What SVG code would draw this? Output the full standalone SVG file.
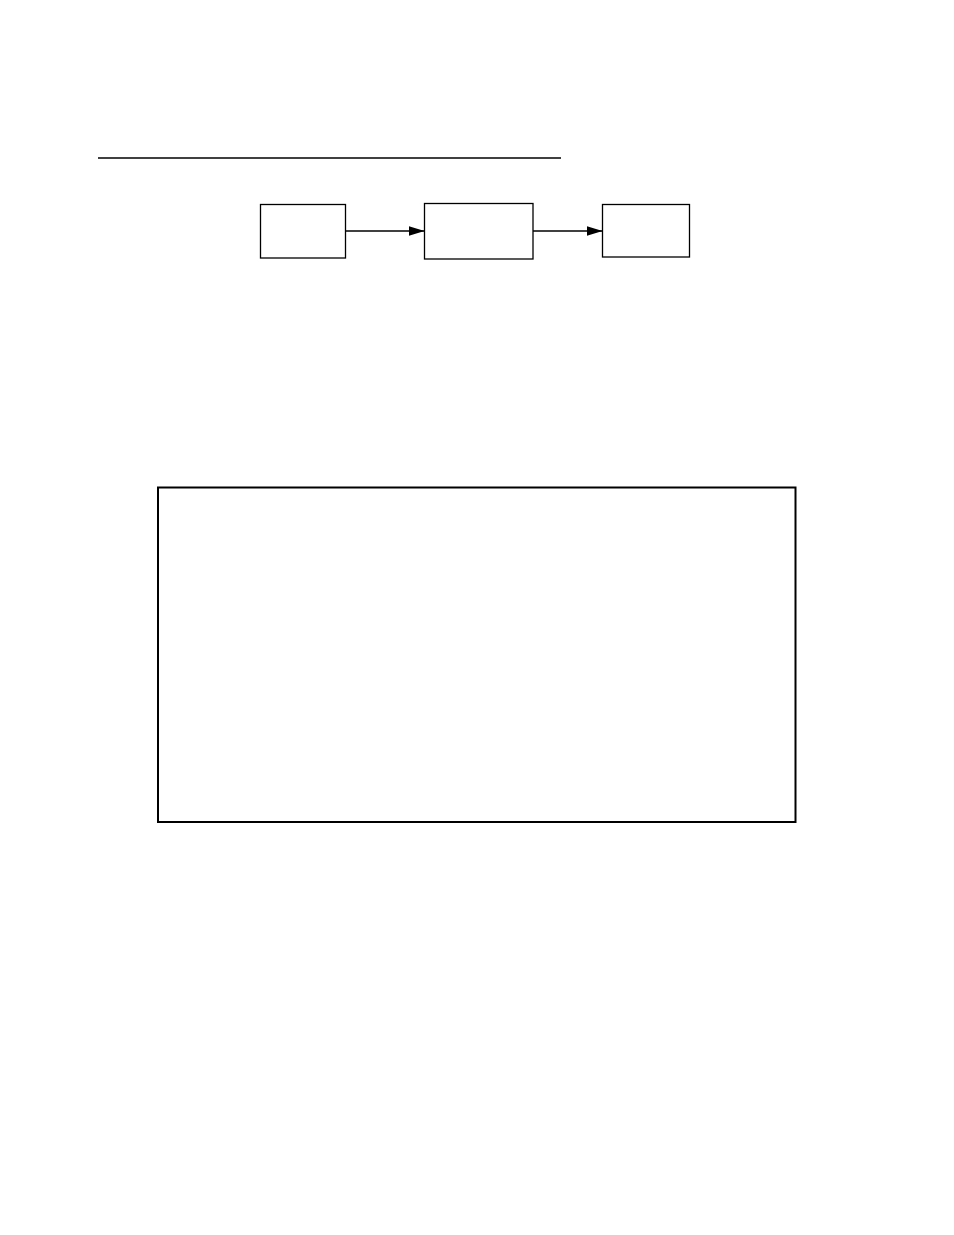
<svg xmlns="http://www.w3.org/2000/svg" width="954" height="1235" viewBox="0 0 954 1235">
<defs>
<style>
.box{fill:#fff;stroke:#000;stroke-width:1.3}
.conn{stroke:#000;stroke-width:1.3;fill:none}
</style>
<marker id="ah" markerWidth="16" markerHeight="10" refX="16" refY="5" orient="auto" markerUnits="userSpaceOnUse">
<path d="M0,0 L16,5 L0,10 Z" fill="#000"/>
</marker>
</defs>
<rect width="954" height="1235" fill="#fff"/>
<line x1="98" y1="158" x2="561" y2="158" stroke="#000" stroke-width="1.3"/>
<g id="node1"><rect class="box" x="260.5" y="204.5" width="85" height="53.5"/></g>
<g id="node2"><rect class="box" x="424.5" y="203.5" width="108.5" height="55.5"/></g>
<g id="node3"><rect class="box" x="602.5" y="204.5" width="87" height="52.5"/></g>
<g id="connectors">
<line class="conn" x1="345.5" y1="231" x2="424.5" y2="231" marker-end="url(#ah)"/>
<line class="conn" x1="533" y1="231" x2="602.5" y2="231" marker-end="url(#ah)"/>
</g>
<g id="panel"><rect x="158" y="487.5" width="637.5" height="334.5" fill="none" stroke="#000" stroke-width="2"/></g>
</svg>
